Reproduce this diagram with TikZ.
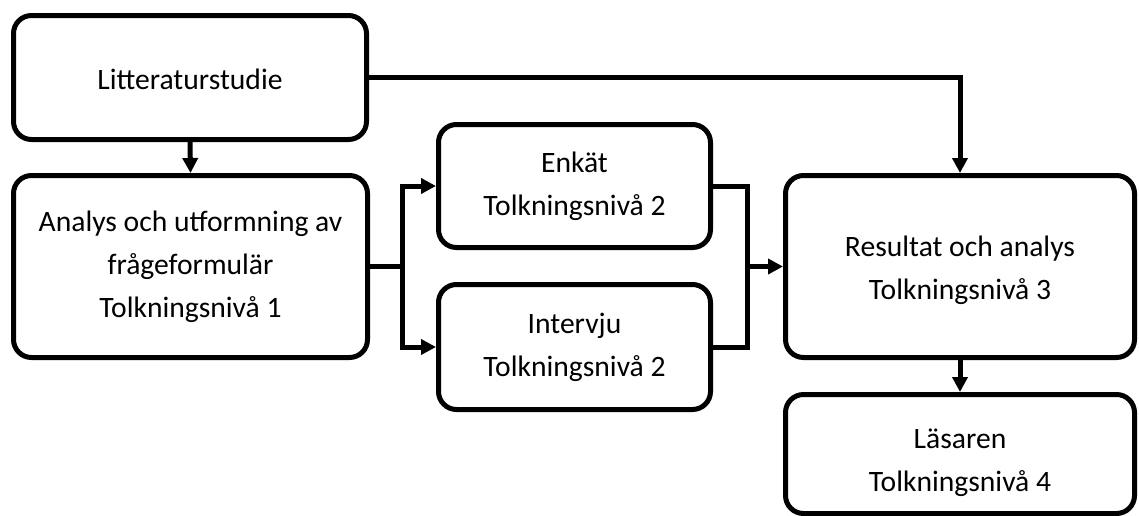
\documentclass[tikz,border=0pt]{standalone}
\usepackage{fontspec}
\setmainfont{Carlito}
\usetikzlibrary{arrows.meta}
\newcommand{\lowerby}[2]{\raisebox{-#1}[\height][\depth]{#2}}
\begin{document}
\begin{tikzpicture}[x=0.5pt,y=-0.5pt,
  box/.style={draw=black, line width=2.5pt, rounded corners=9pt, inner sep=0pt,
    align=center, font=\fontsize{14.8}{21.5}\selectfont, fill=white},
  conn/.style={draw=black, line width=2.5pt},
  arr/.style={conn, -{Triangle[length=7.5pt,width=7.5pt]}}]
\useasboundingbox[fill=white] (0,0) rectangle (1139,515);
\node[box, minimum width=176.5pt, minimum height=62pt] (lit) at (190,77.5) {\lowerby{1pt}{Litteraturstudie}};
\node[box, minimum width=177pt, minimum height=91pt] (ana) at (190.5,266.5) {Analys och utformning av\\frågeformulär\\Tolkningsnivå 1};
\node[box, minimum width=136pt, minimum height=61.5pt] (enk) at (574.5,186) {Enkät\\Tolkningsnivå 2};
\node[box, minimum width=136pt, minimum height=62.5pt] (int) at (574.5,347) {Intervju\\Tolkningsnivå 2};
\node[box, minimum width=174.5pt, minimum height=91pt] (res) at (960,266.5) {\lowerby{1.5pt}{\begin{tabular}{@{}c@{}}Resultat och analys\\Tolkningsnivå 3\end{tabular}}};
\node[box, minimum width=174.5pt, minimum height=59.5pt] (las) at (960,454) {\lowerby{3.5pt}{\begin{tabular}{@{}c@{}}Läsaren\\Tolkningsnivå 4\end{tabular}}};
\coordinate (fork) at (402,266.5);
\coordinate (merge) at (747,266.5);
\draw[arr] (lit.south) -- (ana.north);
\draw[arr] (lit.east) -| (res.north);
\draw[conn] (ana.east) -- (fork);
\draw[arr] (fork) |- (enk.west);
\draw[arr] (fork) |- (int.west);
\draw[conn] (enk.east) -| (merge);
\draw[conn] (int.east) -| (merge);
\draw[arr] (merge) -- (res.west);
\draw[arr] (res.south) -- (las.north);
\end{tikzpicture}
\end{document}
